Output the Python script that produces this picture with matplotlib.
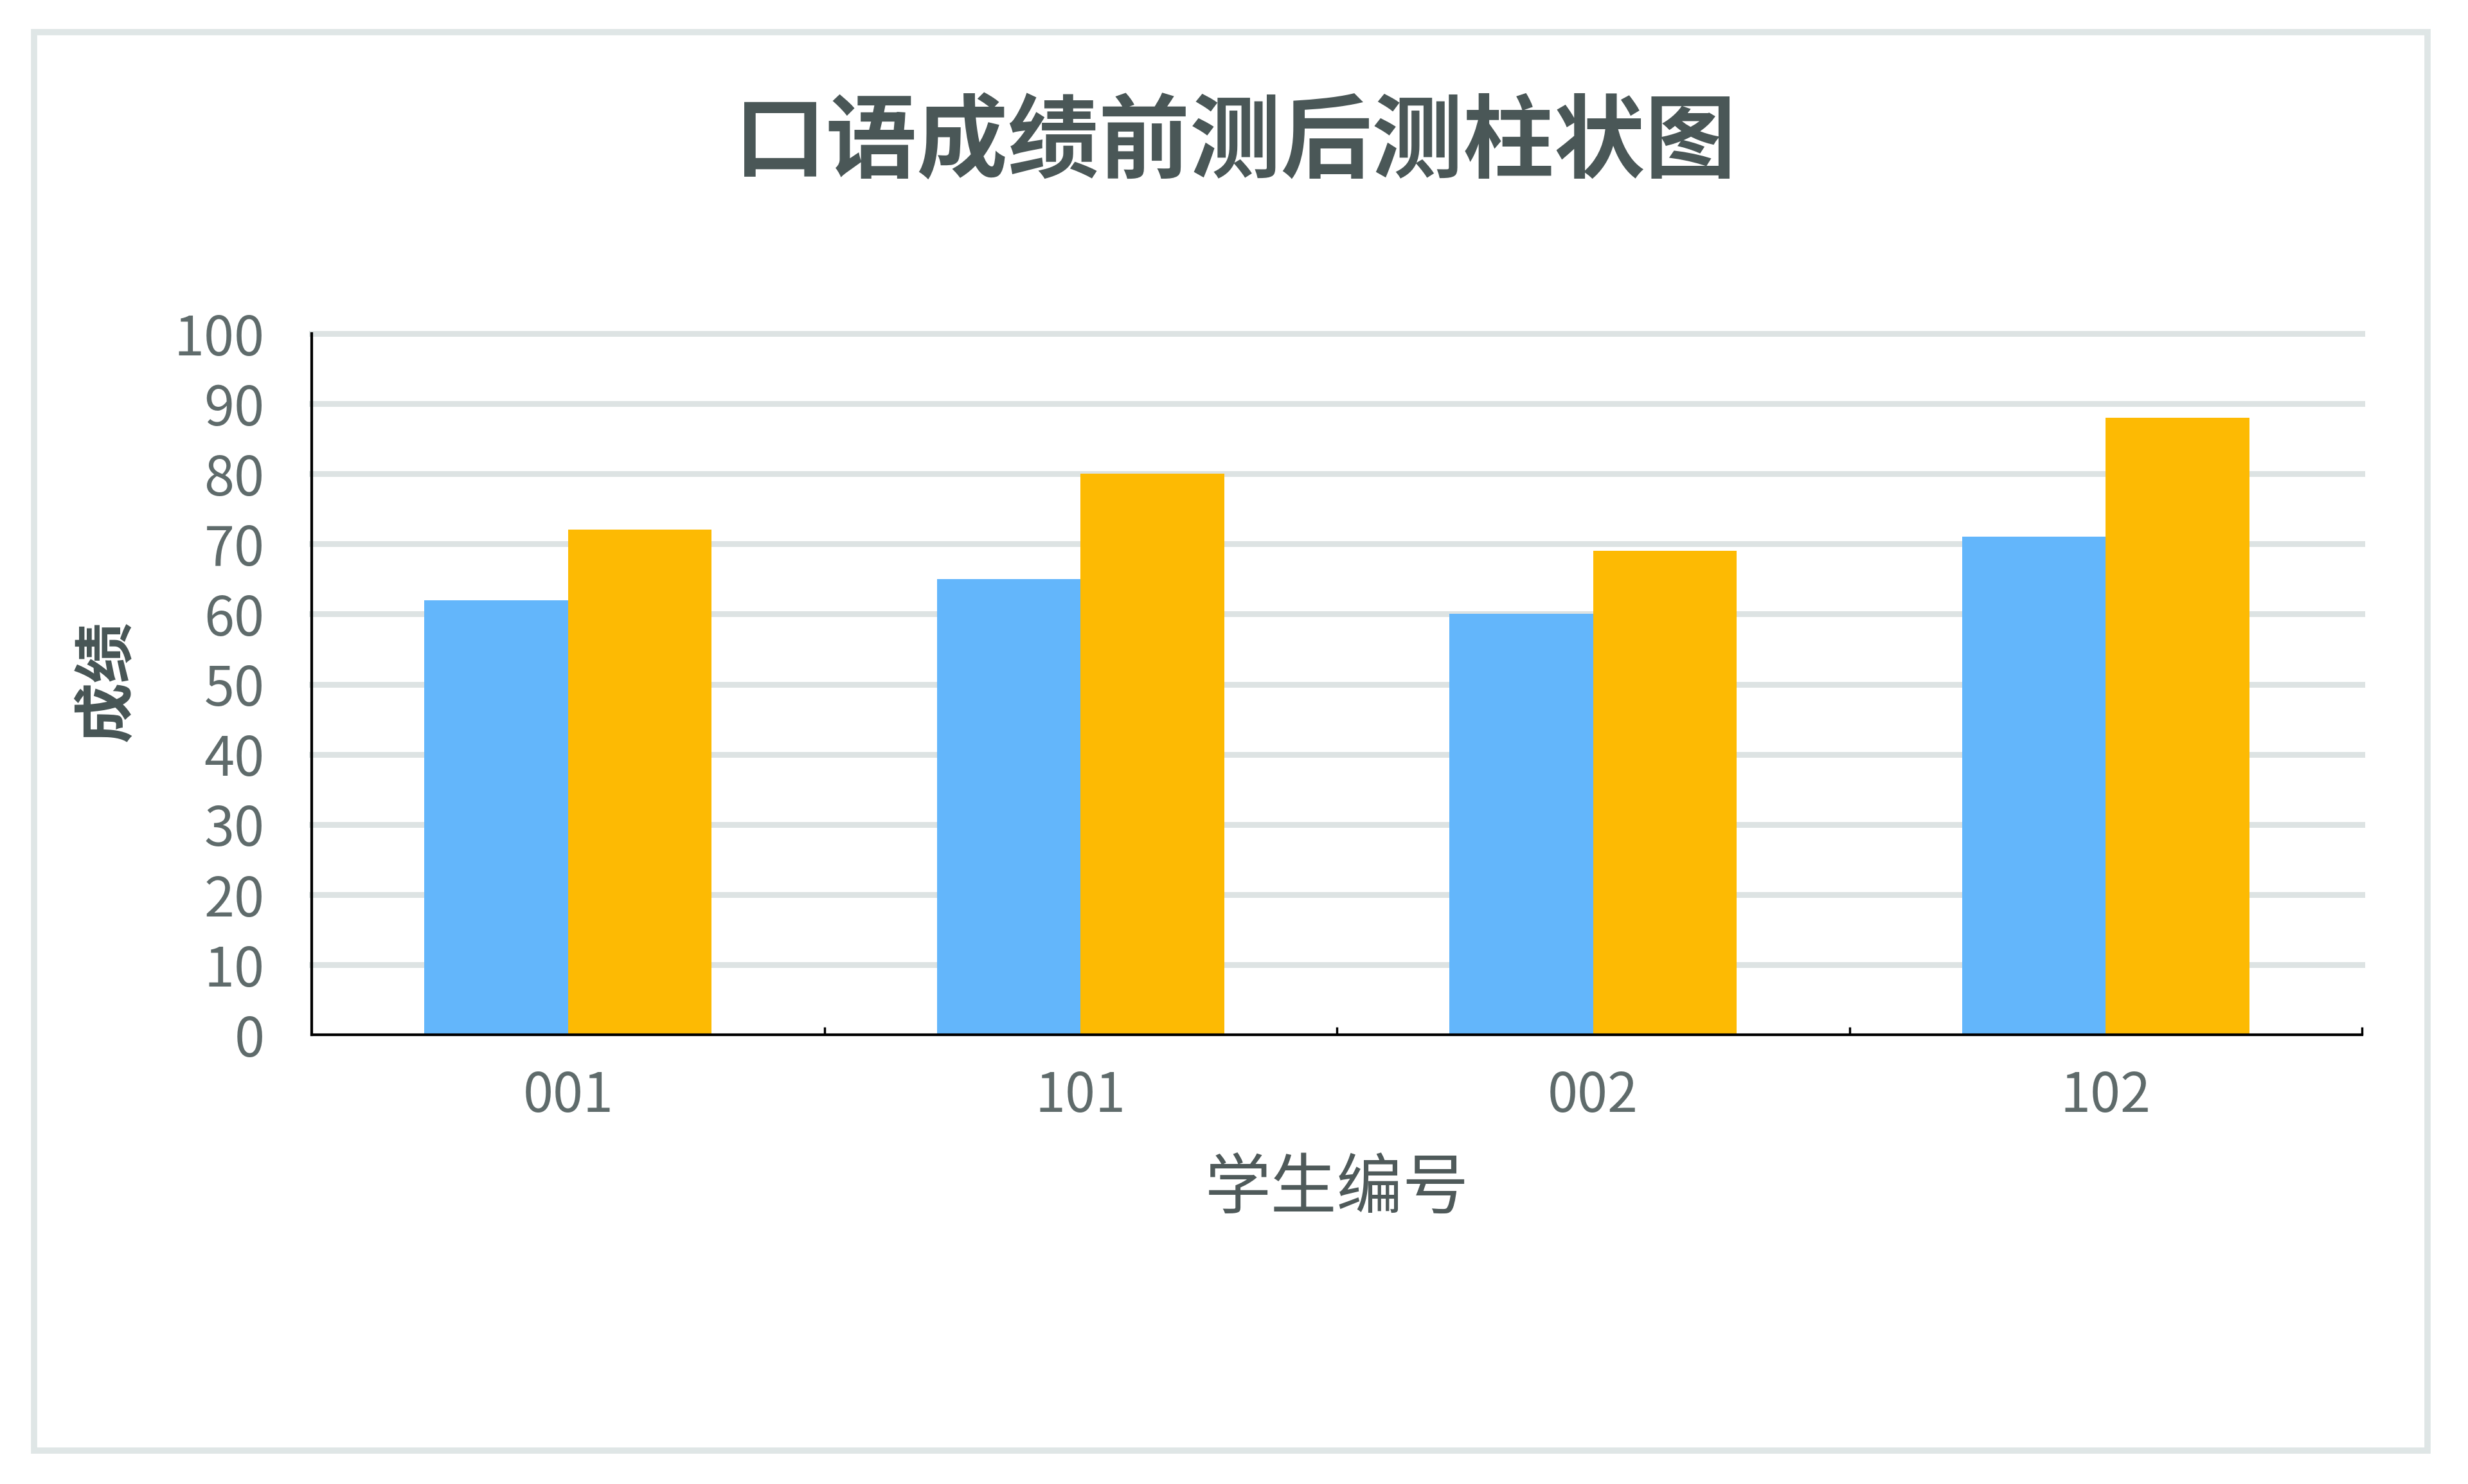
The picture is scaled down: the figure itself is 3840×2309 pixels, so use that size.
import matplotlib
matplotlib.use('Agg')
import matplotlib.pyplot as plt
from matplotlib.patches import Rectangle
import numpy as np

# ---- data ----
students = ['001', '101', '002', '102']
pre_scores = [62, 65, 60, 71]
post_scores = [72, 80, 69, 88]
yticks = list(range(0, 101, 10))
title = '口语成绩前测后测柱状图'
xlabel = '学生编号'
ylabel = '成绩'

plt.rcParams['font.family'] = ['Noto Sans CJK SC', 'DejaVu Sans']

W, H = 3840, 2309
fig = plt.figure(figsize=(W / 100, H / 100), dpi=100)
fig.patch.set_facecolor('white')

# outer border
fig.patches.append(Rectangle((53 / W, 1 - 2257 / H), (3777 - 53) / W, (2257 - 50) / H,
                             transform=fig.transFigure, fill=False,
                             edgecolor='#dfe6e6', linewidth=7, zorder=0))

ax = fig.add_axes([485 / W, 1 - 1610 / H, (3675 - 485) / W, (1610 - 519) / H])
x = np.arange(len(students))
bw = 0.28
ax.bar(x - bw / 2, pre_scores, bw, color='#63b6fb', zorder=3)
ax.bar(x + bw / 2, post_scores, bw, color='#fdba03', zorder=3)
ax.set_xlim(-0.5, 3.5)
ax.set_ylim(0, 100)

for yv in yticks[1:]:
    ax.axhline(yv, color='#dde3e3', linewidth=6.5, zorder=1, clip_on=False)

for s in ['top', 'right']:
    ax.spines[s].set_visible(False)
for s in ['left', 'bottom']:
    ax.spines[s].set_color('black')
    ax.spines[s].set_linewidth(3)
    ax.spines[s].set_zorder(4)

ax.set_yticks(yticks)
ax.tick_params(axis='y', length=0, pad=53, labelsize=61, labelcolor='#5f6b6b')
ax.set_xticks(x)
ax.set_xticklabels(students)
ax.tick_params(axis='x', which='major', length=0, pad=38, labelsize=61, labelcolor='#5f6b6b')
ax.set_xticks([0.5, 1.5, 2.5, 3.5], minor=True)
ax.tick_params(axis='x', which='minor', direction='in', length=9, width=2.5, color='black')
for lab in ax.get_xticklabels() + ax.get_yticklabels():
    lab.set_fontweight('light')

fig.text(1922 / W, 1 - 224 / H, title, fontsize=102, fontweight='bold',
         color='#4a5757', ha='center', va='center')
fig.text(2080 / W, 1 - 1851 / H, xlabel, fontsize=74, fontweight='medium',
         color='#4f5a5a', ha='center', va='center')
fig.text(167 / W, 1 - 1060 / H, ylabel, fontsize=68, fontweight='bold',
         color='#475555', ha='center', va='center', rotation=90)

fig.savefig('out.png', dpi=100, facecolor='white')
